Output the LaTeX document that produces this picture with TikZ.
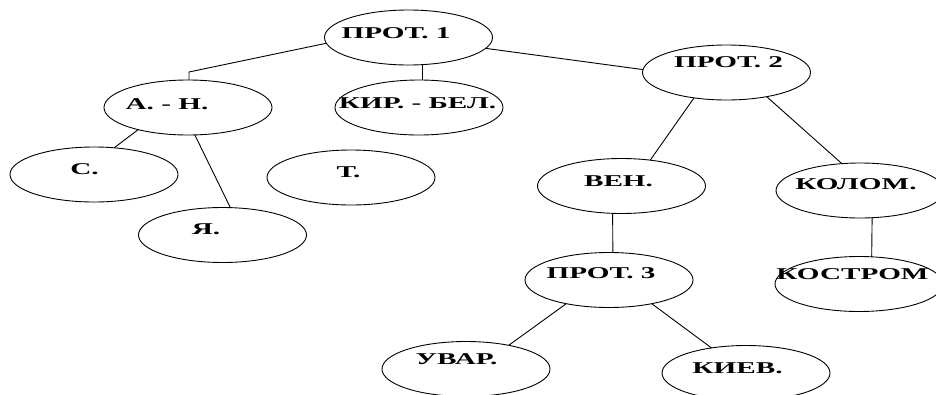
\documentclass[tikz,border=0pt]{standalone}
\usepackage{fontspec}
\setmainfont{Liberation Serif}
\usepackage{graphicx}
\usetikzlibrary{shapes.geometric}

\newcommand{\ancho}[1]{\scalebox{1.77}[1]{#1}}
\tikzset{
  oval/.style={draw, ellipse, line width=0.9pt, minimum width=168pt, minimum height=55pt, inner sep=0pt, outer sep=0pt},
  rotulo/.style={font=\bfseries\fontsize{16.5}{18}\selectfont, inner sep=0pt},
  enlace/.style={line width=0.9pt}
}

\begin{document}
\begin{tikzpicture}[x=1pt, y=-1pt]
\useasboundingbox (0,0) rectangle (936,394);

% Nodos
\node[oval, label={[rotulo, xshift=-12.5pt, yshift=4.5pt]center:\ancho{ПРОТ. 1}}] (prot1) at (408.5,37.5) {};
\node[oval, label={[rotulo, xshift=-21pt, yshift=3.5pt]center:\ancho{А. - Н.}}] (an) at (188,107.5) {};
\node[oval, label={[rotulo, xshift=-1.5pt, yshift=4pt]center:\ancho{КИР. - БЕЛ.}}] (kirbel) at (419,107.5) {};
\node[oval, label={[rotulo, xshift=-9.5pt, yshift=5.5pt]center:\ancho{С.}}] (s) at (94,174.5) {};
\node[oval, label={[rotulo, xshift=-2.5pt, yshift=5.5pt]center:\ancho{Т.}}] (t) at (351,177.5) {};
\node[oval, label={[rotulo, xshift=-16.5pt, yshift=5.5pt]center:\ancho{Я.}}] (ya) at (222.5,235) {};
\node[oval, label={[rotulo, xshift=2pt, yshift=10.5pt]center:\ancho{ПРОТ. 2}}] (prot2) at (726.5,72.5) {};
\node[oval, label={[rotulo, xshift=-3pt, yshift=5pt]center:\ancho{ВЕН.}}] (ven) at (621.5,186) {};
\node[oval, label={[rotulo, xshift=-4pt, yshift=6.5pt]center:\ancho{КОЛОМ.}}] (kolom) at (860,190.5) {};
\node[oval, label={[rotulo, xshift=-6.5pt, yshift=10pt]center:\ancho{КОСТРОМ}}] (kostrom) at (859,284) {};
\node[oval, label={[rotulo, xshift=-8pt, yshift=7pt]center:\ancho{ПРОТ. 3}}] (prot3) at (609,280) {};
\node[oval, label={[rotulo, xshift=-9.5pt, yshift=9.5pt]center:\ancho{УВАР.}}] (uvar) at (466,369) {};
\node[oval, label={[rotulo, xshift=-8.5pt, yshift=5pt]center:\ancho{КИЕВ.}}] (kiev) at (746,373) {};

% Enlaces
\draw[enlace] (prot1.184) -- ([yshift=8pt]an.88) -- (an.88);
\draw[enlace] (kirbel.83) -- (kirbel.83 |- prot1.south);
\draw[enlace] (prot1.352) -- (prot2.178);
\draw[enlace] (an.204) -- (s.53);
\draw[enlace] (an.284) -- (ya.74);
\draw[enlace] (prot2.218) -- (ven.42);
\draw[enlace] (prot2.329) -- (kolom.124);
\draw[enlace] (ven.252) -- (prot3.82);
\draw[enlace] (kolom.294) -- (kostrom.65);
\draw[enlace] (prot3.209) -- (uvar.29);
\draw[enlace] (prot3.331) -- (kiev.144);
\end{tikzpicture}
\end{document}
